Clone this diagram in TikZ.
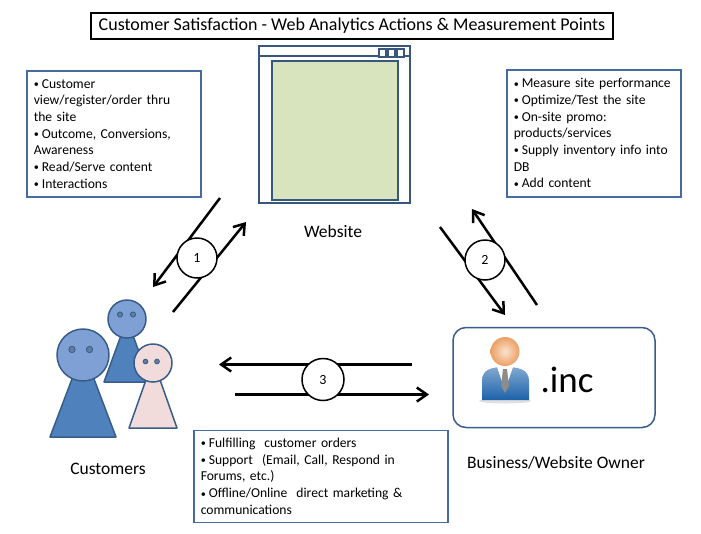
\documentclass[tikz,border=0pt]{standalone}
\usepackage{fontspec}
\setmainfont{Carlito}
\usepackage{graphicx}
\usepackage{tikz}
\usepackage{xcolor}
\usetikzlibrary{arrows.meta}
\hyphenpenalty=10000
\definecolor{box-blue}{RGB}{68,108,160}
\definecolor{frame-blue}{RGB}{56,87,125}
\definecolor{screen-green}{RGB}{215,228,189}
\definecolor{body-blue}{RGB}{79,129,189}
\definecolor{head-blue}{RGB}{126,160,213}
\definecolor{line-blue}{RGB}{56,93,138}
\definecolor{kid-pink}{RGB}{242,220,219}
\definecolor{suit-blue}{RGB}{28,98,170}
\definecolor{skin-orange}{RGB}{236,160,100}
\newcommand{\bul}{\raisebox{0.6pt}{\scalebox{0.75}{\textbullet}}\hspace{3pt}}
\tikzset{
    title-box/.style = {draw=black, line width=2pt, minimum width=522pt, minimum height=26pt, inner sep=0pt, font=\fontsize{18}{20}\selectfont},
    note-box/.style = {draw=box-blue, fill=white, line width=1.5pt, rectangle, anchor=north west, align=left, inner xsep=7pt, inner ysep=0pt, font=\fontsize{13.6}{16.7}\selectfont},
    label-text/.style = {font=\fontsize{17.5}{20}\selectfont},
    window-frame/.style = {draw=frame-blue, fill=white, line width=2.2pt, rectangle, minimum width=151pt, minimum height=157pt, inner sep=0pt},
    window-screen/.style = {draw=frame-blue, fill=screen-green, line width=2.2pt, rectangle, minimum width=126.6pt, minimum height=139.3pt, inner sep=0pt},
    window-button/.style = {draw=frame-blue, fill=white, line width=1.5pt, rectangle, minimum width=7pt, minimum height=8pt, inner sep=0pt},
    step-circle/.style = {draw=black, fill=white, circle, line width=1.5pt, minimum size=40pt, inner sep=0pt, font=\fontsize{14}{16}\selectfont},
    flow/.style = {line width=2.5pt, -{Straight Barb[length=10pt, width=14pt]}},
    owner-box/.style = {draw=line-blue, fill=white, line width=1.5pt, rectangle, rounded corners=13pt, minimum width=202pt, minimum height=100pt},
    person-body/.style = {draw=line-blue, line width=1.5pt, line join=round},
    person-eye/.style = {draw=line-blue, fill=line-blue!80, line width=0.8pt},
}
\begin{document}
\begin{tikzpicture}[x=1pt, y=-1pt]
\path[use as bounding box, fill=white] (0,0) rectangle (701,533);
\node[title-box] (title) at (352,26) {Customer Satisfaction - Web Analytics Actions \& Measurement Points};

\node[window-frame] (website) at (334.5,124.5) {};
\draw[frame-blue, line width=2.2pt] ([yshift=-11pt]website.north west) -- ([yshift=-11pt]website.north east);
\node[window-screen] (screen) at (335,130.3) {};
\foreach \i in {0,1,2}
    \node[window-button] (button-\i) at (382.5+9*\i,53) {};
\node[label-text] (website-label) at (333,231) {Website};

\node[note-box, text width=160pt, minimum height=126pt] (customer-notes) at (26,70) {\bul Customer\\ view/register/order thru\\ the site\\ \bul Outcome, Conversions,\\ Awareness\\ \bul Read/Serve content\\ \bul Interactions};
\node[note-box, text width=160pt, minimum height=127pt] (owner-notes) at (506,69) {\bul Measure site performance\\ \bul Optimize/Test the site\\ \bul On-site promo:\\ products/services\\ \bul Supply inventory info into\\ DB\\ \bul Add content};
\node[note-box, text width=240pt, minimum height=92pt] (service-notes) at (193,429.5) {\bul Fulfilling~ customer orders\\ \bul Support~ (Email, Call, Respond in\\ Forums, etc.)\\ \bul Offline/Online~ direct marketing \&\\ communications};

\coordinate (step1-in) at (220,198);
\coordinate (step1-out) at (153,287);
\coordinate (step1-back) at (173,312);
\coordinate (step1-up) at (246,222);
\draw[flow] (step1-in) -- (step1-out);
\draw[flow] (step1-back) -- (step1-up);
\node[step-circle] (step1) at (197,258) {1};

\coordinate (step2-in) at (440,227);
\coordinate (step2-out) at (505,315);
\coordinate (step2-back) at (537,305);
\coordinate (step2-up) at (472,209);
\draw[flow] (step2-in) -- (step2-out);
\draw[flow] (step2-back) -- (step2-up);
\node[step-circle] (step2) at (485,260) {2};

\coordinate (step3-in) at (412,364.5);
\coordinate (step3-out) at (219,364.5);
\coordinate (step3-back) at (235,394.5);
\coordinate (step3-up) at (429,394.5);
\draw[flow] (step3-in) -- (step3-out);
\draw[flow] (step3-back) -- (step3-up);
\node[step-circle, minimum size=42pt] (step3) at (323,379.5) {3};

\draw[person-body, fill=body-blue] (127,319) -- (104,382) -- (150,382) -- cycle;
\draw[person-body, fill=head-blue] (127,319) circle (19);
\fill[person-eye] (120,314.5) circle (2.6) (133,314.5) circle (2.6);
\draw[person-body, fill=body-blue] (83,350) -- (50,437) -- (116,437) -- cycle;
\draw[person-body, fill=head-blue] (83,355) circle (26);
\fill[person-eye] (72,349.5) circle (3.2) (89.5,349.5) circle (3.2);
\draw[person-body, fill=kid-pink] (153,360) -- (129,428) -- (177,428) -- cycle;
\draw[person-body, fill=kid-pink] (153,363) circle (19);
\fill[person-eye] (145.5,361.5) circle (2.4) (157,361.5) circle (2.4);
\node[label-text] (customers-label) at (108,469) {Customers};

\node[owner-box] (owner) at (554,377.5) {};
\fill[black!12] (505,401) ellipse (26 and 2.5);
\shade[top color=suit-blue!55, bottom color=suit-blue] (482,400) -- (482,381) .. controls (482,369) and (492,367) .. (505,367) .. controls (518,367) and (529,369) .. (529,381) -- (529,400) -- cycle;
\fill[white] (497,367) -- (513,367) -- (505,390) -- cycle;
\fill[black!45] (503,369) -- (507,369) -- (509,386) -- (505,393) -- (501,386) -- cycle;
\shade[inner color=skin-orange!30!white, outer color=skin-orange] (505,351.5) circle (14.5);
\node[font=\fontsize{37}{40}\selectfont, anchor=base] (inc) at (567,392) {.inc};
\node[label-text] (owner-label) at (556,463) {Business/Website Owner};
\end{tikzpicture}
\end{document}
